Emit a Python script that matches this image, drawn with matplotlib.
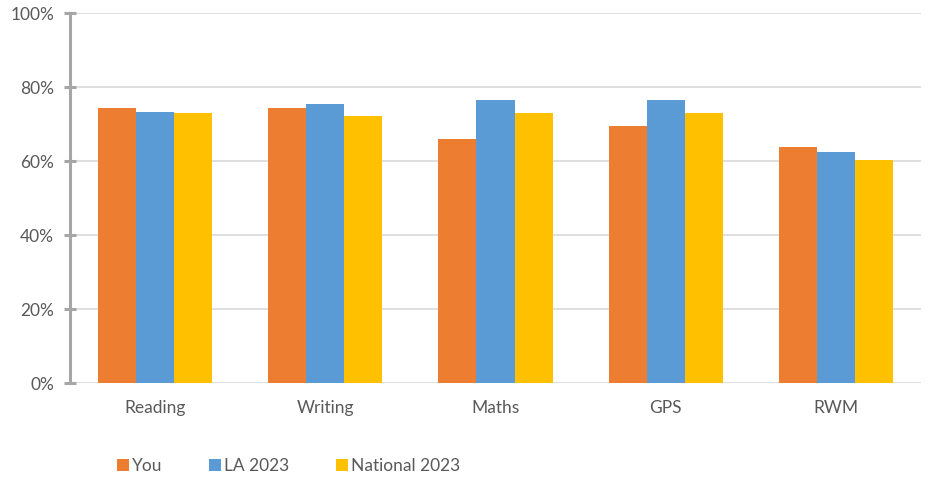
import matplotlib
matplotlib.use("Agg")
import matplotlib.pyplot as plt
import numpy as np
from matplotlib.ticker import FuncFormatter

categories = ["Reading", "Writing", "Maths", "GPS", "RWM"]
series_names = ["You", "LA 2023", "National 2023"]
you = [74.3, 74.3, 66.0, 69.5, 63.7]
la_2023 = [73.3, 75.4, 76.4, 76.4, 62.3]
national_2023 = [73.0, 72.2, 73.1, 73.1, 60.2]
colors = ["#ED7D31", "#5B9BD5", "#FFC000"]

plt.rcParams['font.family'] = ['Lato', 'DejaVu Sans']

fig = plt.figure(figsize=(9.35, 4.8), dpi=100)
ax = fig.add_axes([70/935, 1-383/480, (921-70)/935, (383-13)/480])

x = np.arange(len(categories))
w = 0.224
handles = []
for i, (vals, name) in enumerate(zip([you, la_2023, national_2023], series_names)):
    b = ax.bar(x + (i-1)*w, vals, w, color=colors[i], label=name, zorder=3)
    handles.append(b)

ax.set_xlim(-0.5, len(categories)-0.5)
ax.set_ylim(0, 100)
ax.set_yticks([0, 20, 40, 60, 80, 100])
ax.yaxis.set_major_formatter(FuncFormatter(lambda v, p: f"{int(v)}%"))
ax.grid(axis='y', color='#D9D9D9', linewidth=1.2, zorder=0)
ax.set_axisbelow(True)
for s in ['top', 'right', 'bottom']:
    ax.spines[s].set_visible(False)
ax.spines['left'].set_color('#A6A6A6')
ax.spines['left'].set_linewidth(2.2)
ax.tick_params(axis='y', direction='inout', length=9, width=2.2, color='#A6A6A6',
               labelsize=12.5, labelcolor='#595959', pad=7)
ax.tick_params(axis='x', length=0, labelsize=12.5, labelcolor='#595959', pad=12)
ax.set_xticks(x)
ax.set_xticklabels(categories)

fig.legend(handles=handles, labels=series_names, loc='center left',
           bbox_to_anchor=(101/935, 1-466/480), ncol=3, frameon=False,
           handlelength=0.7, handleheight=0.7, handletextpad=0.2,
           columnspacing=2.65, fontsize=12.5, labelcolor='#595959')

fig.savefig("out.png", dpi=100)
